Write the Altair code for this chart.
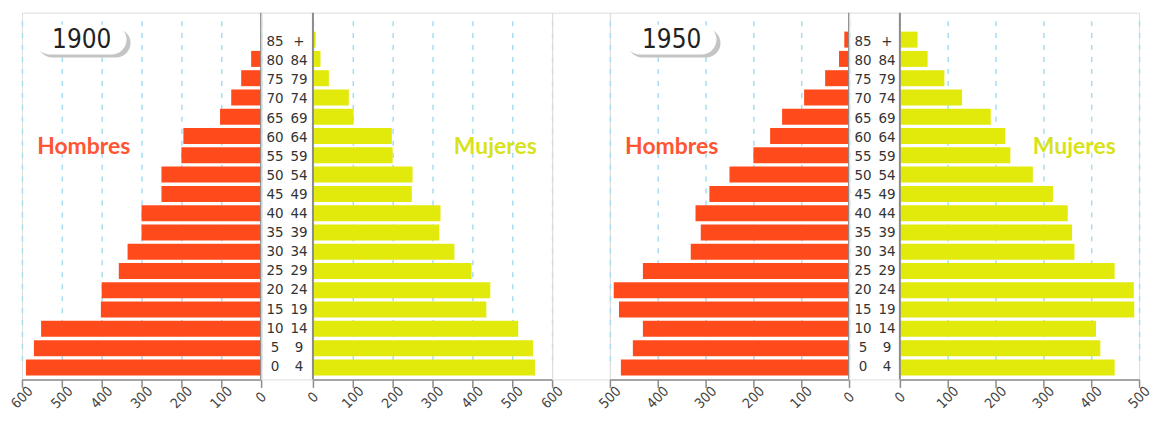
import altair as alt
import pandas as pd

# ---------------- data ----------------
age_start = ["0", "5", "10", "15", "20", "25", "30", "35", "40", "45",
             "50", "55", "60", "65", "70", "75", "80", "85"]
age_end = ["4", "9", "14", "19", "24", "29", "34", "39", "44", "49",
           "54", "59", "64", "69", "74", "79", "84", "+"]
age_groups = [f"{s}-{e}" for s, e in zip(age_start, age_end)]

men_1900 = [590, 570, 552, 402, 400, 357, 335, 300, 300, 250,
            250, 200, 195, 103, 75, 50, 25, 0]
women_1900 = [557, 552, 515, 435, 445, 398, 355, 317, 320, 248,
              250, 200, 198, 102, 90, 40, 19, 7]
men_1950 = [477, 452, 431, 481, 492, 431, 331, 310, 321, 292,
            250, 200, 165, 140, 94, 50, 21, 10]
women_1950 = [449, 419, 410, 490, 489, 449, 365, 360, 351, 320,
              278, 231, 220, 190, 130, 93, 58, 37]

years = ["1900", "1950"]
sex_labels = ["Hombres", "Mujeres"]
ticks_1900 = [0, 100, 200, 300, 400, 500, 600]
ticks_1950 = [0, 100, 200, 300, 400, 500]

# ---------------- style ----------------
H = 368
PW = 240
NARROW = "Liberation Sans Narrow, DejaVu Sans Condensed, Roboto, sans-serif"
FONT = "Lato, Open Sans, sans-serif"
MALE = "#FF4B1C"
FEMALE = "#E2EA0C"
LINE = "#8c8c8c"

order_top = age_groups[::-1]
yscale = alt.Scale(range=[19, 364], paddingInner=0.17, paddingOuter=0)
one = pd.DataFrame({"k": [0]})


def y_enc():
    return alt.Y("age:N", sort=order_top, scale=yscale, axis=None)


def bar_panel(values, ticks, reverse, color):
    df = pd.DataFrame({"age": age_groups, "value": values})
    axis = alt.Axis(values=ticks, title=None, grid=True, gridDash=[5, 7],
                    gridColor="#A6DDF3", gridWidth=1.5,
                    domainColor=LINE, domainWidth=1.5,
                    tickColor=LINE, tickWidth=1.5, tickSize=8,
                    labelAngle=-45, labelAlign="center", labelBaseline="middle",
                    labelPadding=10, labelFont=NARROW, labelFontSize=14,
                    labelColor="#444444", labelOverlap=False, labelFlush=False,
                    format="d")
    bars = alt.Chart(df).mark_bar(color=color).encode(
        x=alt.X("value:Q", scale=alt.Scale(domain=[0, ticks[-1]], reverse=reverse, nice=False),
                axis=axis),
        y=y_enc(),
    )
    rule = alt.Chart(one).mark_rule(color=LINE, strokeWidth=2).encode(
        x=alt.value(PW if reverse else 0), y=alt.value(0), y2=alt.value(H)
    )
    return bars, rule


def title_box(year, x0):
    shadow = alt.Chart(one).mark_rect(color="#c4c4c4", cornerRadius=15).encode(
        x=alt.value(x0 + 3), x2=alt.value(x0 + 96), y=alt.value(16), y2=alt.value(45)
    )
    box = alt.Chart(one).mark_rect(color="white", cornerRadius=15).encode(
        x=alt.value(x0), x2=alt.value(x0 + 92), y=alt.value(12), y2=alt.value(42)
    )
    txt = alt.Chart(one).mark_text(font=NARROW, fontSize=26, color="#222222",
                                   align="center", baseline="middle").encode(
        x=alt.value(x0 + 47), y=alt.value(27), text=alt.value(year)
    )
    return shadow + box + txt


def label(text, x, color):
    return alt.Chart(one).mark_text(font=FONT, fontSize=23, fontWeight="bold",
                                    color=color, align="center", baseline="middle").encode(
        x=alt.value(x), y=alt.value(135), text=alt.value(text)
    )


def ages_panel(width):
    df = pd.DataFrame({"age": age_groups, "start": age_start, "end": age_end})
    base = alt.Chart(df).encode(y=y_enc())
    t1 = base.mark_text(font=NARROW, fontSize=15, color="#333333",
                        align="center", baseline="middle").encode(x=alt.value(14), text="start:N")
    t2 = base.mark_text(font=NARROW, fontSize=15, color="#333333",
                        align="center", baseline="middle").encode(x=alt.value(38), text="end:N")
    return (t1 + t2).properties(width=width, height=H)


# 1900
m00, r_m00 = bar_panel(men_1900, ticks_1900, True, MALE)
f00, r_f00 = bar_panel(women_1900, ticks_1900, False, FEMALE)
A = alt.layer(m00, r_m00, title_box(years[0], 13), label(sex_labels[0], 62, "#FF5533")).properties(width=PW, height=H)
B = ages_panel(52)
C = alt.layer(f00, r_f00, label(sex_labels[1], 183, "#D8E21A")).properties(width=PW, height=H)

D = alt.Chart(one).mark_point(opacity=0).encode(x=alt.value(30), y=alt.value(100)).properties(width=58, height=H)

# 1950
m50, r_m50 = bar_panel(men_1950, ticks_1950, True, MALE)
f50, r_f50 = bar_panel(women_1950, ticks_1950, False, FEMALE)
E = alt.layer(m50, r_m50, title_box(years[1], 15), label(sex_labels[0], 62, "#FF5533")).properties(width=PW, height=H)
F = ages_panel(51)
G = alt.layer(f50, r_f50, label(sex_labels[1], 175, "#D8E21A")).properties(width=PW, height=H)

chart = alt.hconcat(A, B, C, D, E, F, G, spacing=0, bounds="flush").properties(
    padding={"left": 0, "top": 2, "right": 0, "bottom": 0}
).configure_view(strokeWidth=0, stroke="transparent", strokeOpacity=0).configure(background="white")

chart.save("out.html", embed_options={"renderer": "svg", "actions": False})
